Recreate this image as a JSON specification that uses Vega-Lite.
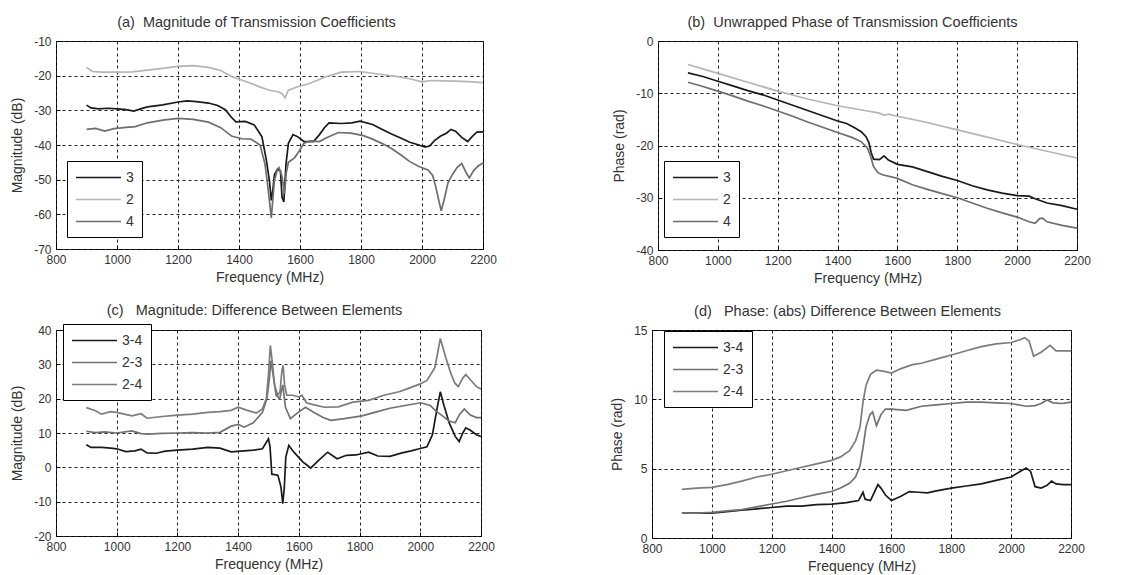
{
  "$schema": "https://vega.github.io/schema/vega-lite/v6.json",
  "background": "white",
  "padding": {"left": 10, "top": 14, "right": 5, "bottom": 5},
  "resolve": {"scale": {"color": "independent"}, "legend": {"color": "independent"}},
  "config": {
    "font": "Liberation Sans",
    "view": {"stroke": "#000", "strokeWidth": 1},
    "title": {"font": "Liberation Sans", "fontSize": 14.5, "fontWeight": "normal", "color": "#333", "offset": 5, "anchor": "middle"},
    "axis": {
      "labelFont": "Liberation Sans", "labelFontSize": 12, "labelColor": "#333",
      "titleFont": "Liberation Sans", "titleFontSize": 14, "titleFontWeight": "normal", "titleColor": "#333",
      "domain": false, "ticks": true, "tickSize": -4, "tickColor": "#000", "labelPadding": 9,
      "grid": true, "gridColor": "#222", "gridDash": [3, 3], "gridWidth": 1, "gridOpacity": 1,
      "labelOverlap": false, "labelFlush": false, "labelBound": false,
      "labelExpr": "'' + datum.value"
    },
    "axisX": {"titlePadding": 5},
    "axisY": {"titlePadding": 9},
    "legend": {
      "title": null, "orient": "none", "strokeColor": "#000", "fillColor": "white", "padding": 8,
      "symbolType": "M-3,0H3", "symbolSize": 225, "symbolOffset": 15, "symbolStrokeWidth": 1.8,
      "labelFont": "Liberation Sans", "labelFontSize": 14,
      "labelColor": "#333", "labelOffset": 19, "rowPadding": 6
    },
    "line": {"strokeWidth": 1.7}
  },
  "datasets": {
    "a": [
      {"f":900,"v":-28.5,"s":"3"},{"f":915,"v":-29.3,"s":"3"},{"f":940,"v":-29.6,"s":"3"},{"f":970,"v":-29.4,"s":"3"},{"f":1000,"v":-29.6,"s":"3"},{"f":1030,"v":-29.8,"s":"3"},{"f":1055,"v":-30.2,"s":"3"},{"f":1080,"v":-29.5,"s":"3"},{"f":1100,"v":-29,"s":"3"},{"f":1150,"v":-28.4,"s":"3"},{"f":1200,"v":-27.6,"s":"3"},{"f":1230,"v":-27.3,"s":"3"},{"f":1260,"v":-27.5,"s":"3"},{"f":1300,"v":-27.9,"s":"3"},{"f":1330,"v":-28.6,"s":"3"},{"f":1355,"v":-29.8,"s":"3"},{"f":1375,"v":-32,"s":"3"},{"f":1390,"v":-33.3,"s":"3"},{"f":1420,"v":-33.2,"s":"3"},{"f":1450,"v":-34.2,"s":"3"},{"f":1475,"v":-37.6,"s":"3"},{"f":1490,"v":-44.5,"s":"3"},{"f":1500,"v":-50.5,"s":"3"},{"f":1506,"v":-56,"s":"3"},{"f":1511,"v":-53,"s":"3"},{"f":1516,"v":-48.6,"s":"3"},{"f":1526,"v":-47,"s":"3"},{"f":1536,"v":-47.5,"s":"3"},{"f":1541,"v":-55,"s":"3"},{"f":1547,"v":-56.4,"s":"3"},{"f":1554,"v":-45.6,"s":"3"},{"f":1562,"v":-39.5,"s":"3"},{"f":1577,"v":-37,"s":"3"},{"f":1592,"v":-37.6,"s":"3"},{"f":1613,"v":-39,"s":"3"},{"f":1644,"v":-39,"s":"3"},{"f":1664,"v":-37,"s":"3"},{"f":1680,"v":-35,"s":"3"},{"f":1695,"v":-33.6,"s":"3"},{"f":1736,"v":-33.8,"s":"3"},{"f":1770,"v":-33.6,"s":"3"},{"f":1797,"v":-33.1,"s":"3"},{"f":1838,"v":-34.1,"s":"3"},{"f":1870,"v":-35.5,"s":"3"},{"f":1900,"v":-36.8,"s":"3"},{"f":1930,"v":-38,"s":"3"},{"f":1960,"v":-39.2,"s":"3"},{"f":1990,"v":-40,"s":"3"},{"f":2010,"v":-40.6,"s":"3"},{"f":2025,"v":-40.3,"s":"3"},{"f":2040,"v":-38.8,"s":"3"},{"f":2060,"v":-37.5,"s":"3"},{"f":2080,"v":-36.6,"s":"3"},{"f":2095,"v":-35.5,"s":"3"},{"f":2110,"v":-36,"s":"3"},{"f":2130,"v":-37.8,"s":"3"},{"f":2150,"v":-39,"s":"3"},{"f":2165,"v":-37.5,"s":"3"},{"f":2180,"v":-36.3,"s":"3"},{"f":2200,"v":-36.2,"s":"3"},
      {"f":900,"v":-17.6,"s":"2"},{"f":920,"v":-18.8,"s":"2"},{"f":950,"v":-19,"s":"2"},{"f":1000,"v":-19,"s":"2"},{"f":1050,"v":-18.9,"s":"2"},{"f":1100,"v":-18.4,"s":"2"},{"f":1150,"v":-17.9,"s":"2"},{"f":1200,"v":-17.3,"s":"2"},{"f":1250,"v":-17.1,"s":"2"},{"f":1300,"v":-17.6,"s":"2"},{"f":1340,"v":-18.5,"s":"2"},{"f":1377,"v":-20.3,"s":"2"},{"f":1439,"v":-22.2,"s":"2"},{"f":1470,"v":-23.3,"s":"2"},{"f":1500,"v":-24.2,"s":"2"},{"f":1531,"v":-24.7,"s":"2"},{"f":1541,"v":-25.2,"s":"2"},{"f":1551,"v":-26.4,"s":"2"},{"f":1562,"v":-24.2,"s":"2"},{"f":1592,"v":-23.2,"s":"2"},{"f":1633,"v":-22.2,"s":"2"},{"f":1685,"v":-20.3,"s":"2"},{"f":1736,"v":-19,"s":"2"},{"f":1797,"v":-18.8,"s":"2"},{"f":1838,"v":-19.3,"s":"2"},{"f":1880,"v":-19.8,"s":"2"},{"f":1920,"v":-20.3,"s":"2"},{"f":1960,"v":-20.9,"s":"2"},{"f":2000,"v":-21.8,"s":"2"},{"f":2030,"v":-21.4,"s":"2"},{"f":2070,"v":-21.5,"s":"2"},{"f":2110,"v":-21.6,"s":"2"},{"f":2150,"v":-21.7,"s":"2"},{"f":2200,"v":-22,"s":"2"},
      {"f":900,"v":-35.5,"s":"4"},{"f":930,"v":-35.2,"s":"4"},{"f":960,"v":-36,"s":"4"},{"f":990,"v":-35.3,"s":"4"},{"f":1030,"v":-34.9,"s":"4"},{"f":1060,"v":-34.7,"s":"4"},{"f":1100,"v":-33.6,"s":"4"},{"f":1150,"v":-32.8,"s":"4"},{"f":1200,"v":-32.3,"s":"4"},{"f":1250,"v":-32.6,"s":"4"},{"f":1300,"v":-33.4,"s":"4"},{"f":1340,"v":-35,"s":"4"},{"f":1377,"v":-37.5,"s":"4"},{"f":1410,"v":-38.2,"s":"4"},{"f":1439,"v":-38.3,"s":"4"},{"f":1469,"v":-40,"s":"4"},{"f":1485,"v":-45.4,"s":"4"},{"f":1495,"v":-52.3,"s":"4"},{"f":1506,"v":-61,"s":"4"},{"f":1516,"v":-50.3,"s":"4"},{"f":1526,"v":-47,"s":"4"},{"f":1531,"v":-46.5,"s":"4"},{"f":1541,"v":-49,"s":"4"},{"f":1549,"v":-54,"s":"4"},{"f":1555,"v":-48,"s":"4"},{"f":1562,"v":-45,"s":"4"},{"f":1582,"v":-43.7,"s":"4"},{"f":1597,"v":-41.8,"s":"4"},{"f":1613,"v":-39.5,"s":"4"},{"f":1633,"v":-38.8,"s":"4"},{"f":1664,"v":-39,"s":"4"},{"f":1685,"v":-38,"s":"4"},{"f":1726,"v":-36.4,"s":"4"},{"f":1767,"v":-36.6,"s":"4"},{"f":1808,"v":-37.3,"s":"4"},{"f":1838,"v":-38.3,"s":"4"},{"f":1870,"v":-39.6,"s":"4"},{"f":1900,"v":-41,"s":"4"},{"f":1930,"v":-42.8,"s":"4"},{"f":1960,"v":-44.8,"s":"4"},{"f":1990,"v":-46.2,"s":"4"},{"f":2020,"v":-47.2,"s":"4"},{"f":2035,"v":-48.8,"s":"4"},{"f":2045,"v":-52,"s":"4"},{"f":2055,"v":-56,"s":"4"},{"f":2063,"v":-59,"s":"4"},{"f":2072,"v":-56,"s":"4"},{"f":2085,"v":-51,"s":"4"},{"f":2100,"v":-48.5,"s":"4"},{"f":2115,"v":-46.5,"s":"4"},{"f":2130,"v":-45.3,"s":"4"},{"f":2145,"v":-48,"s":"4"},{"f":2155,"v":-49.5,"s":"4"},{"f":2170,"v":-47.3,"s":"4"},{"f":2185,"v":-46,"s":"4"},{"f":2200,"v":-45.2,"s":"4"}
    ],
    "b": [
      {"f":900,"v":-6.1,"s":"3"},{"f":950,"v":-6.8,"s":"3"},{"f":1000,"v":-7.7,"s":"3"},{"f":1050,"v":-8.6,"s":"3"},{"f":1100,"v":-9.5,"s":"3"},{"f":1150,"v":-10.3,"s":"3"},{"f":1200,"v":-11.3,"s":"3"},{"f":1250,"v":-12.3,"s":"3"},{"f":1300,"v":-13.3,"s":"3"},{"f":1350,"v":-14.3,"s":"3"},{"f":1400,"v":-15.3,"s":"3"},{"f":1430,"v":-15.8,"s":"3"},{"f":1460,"v":-16.7,"s":"3"},{"f":1480,"v":-17.4,"s":"3"},{"f":1495,"v":-18.3,"s":"3"},{"f":1505,"v":-19.5,"s":"3"},{"f":1512,"v":-21.3,"s":"3"},{"f":1520,"v":-22.6,"s":"3"},{"f":1540,"v":-22.7,"s":"3"},{"f":1555,"v":-22,"s":"3"},{"f":1570,"v":-22.8,"s":"3"},{"f":1600,"v":-23.6,"s":"3"},{"f":1650,"v":-24.1,"s":"3"},{"f":1700,"v":-25,"s":"3"},{"f":1750,"v":-25.9,"s":"3"},{"f":1800,"v":-26.7,"s":"3"},{"f":1850,"v":-27.7,"s":"3"},{"f":1900,"v":-28.5,"s":"3"},{"f":1950,"v":-29.1,"s":"3"},{"f":2000,"v":-29.6,"s":"3"},{"f":2040,"v":-29.7,"s":"3"},{"f":2060,"v":-30.2,"s":"3"},{"f":2100,"v":-31,"s":"3"},{"f":2150,"v":-31.5,"s":"3"},{"f":2200,"v":-32.2,"s":"3"},
      {"f":900,"v":-4.5,"s":"2"},{"f":1000,"v":-6.2,"s":"2"},{"f":1100,"v":-7.9,"s":"2"},{"f":1200,"v":-9.6,"s":"2"},{"f":1300,"v":-11.1,"s":"2"},{"f":1400,"v":-12.4,"s":"2"},{"f":1500,"v":-13.4,"s":"2"},{"f":1540,"v":-13.8,"s":"2"},{"f":1555,"v":-14.2,"s":"2"},{"f":1570,"v":-14,"s":"2"},{"f":1600,"v":-14.4,"s":"2"},{"f":1700,"v":-15.6,"s":"2"},{"f":1800,"v":-17,"s":"2"},{"f":1900,"v":-18.4,"s":"2"},{"f":2000,"v":-19.8,"s":"2"},{"f":2100,"v":-21.1,"s":"2"},{"f":2200,"v":-22.4,"s":"2"},
      {"f":900,"v":-7.9,"s":"4"},{"f":950,"v":-8.7,"s":"4"},{"f":1000,"v":-9.6,"s":"4"},{"f":1050,"v":-10.5,"s":"4"},{"f":1100,"v":-11.5,"s":"4"},{"f":1150,"v":-12.4,"s":"4"},{"f":1200,"v":-13.4,"s":"4"},{"f":1250,"v":-14.4,"s":"4"},{"f":1300,"v":-15.5,"s":"4"},{"f":1350,"v":-16.5,"s":"4"},{"f":1400,"v":-17.5,"s":"4"},{"f":1450,"v":-18.5,"s":"4"},{"f":1480,"v":-19.3,"s":"4"},{"f":1500,"v":-20.5,"s":"4"},{"f":1510,"v":-22,"s":"4"},{"f":1520,"v":-24,"s":"4"},{"f":1535,"v":-25.2,"s":"4"},{"f":1550,"v":-25.6,"s":"4"},{"f":1600,"v":-26.3,"s":"4"},{"f":1650,"v":-27.5,"s":"4"},{"f":1700,"v":-28.4,"s":"4"},{"f":1750,"v":-29.2,"s":"4"},{"f":1800,"v":-30,"s":"4"},{"f":1850,"v":-31,"s":"4"},{"f":1900,"v":-32,"s":"4"},{"f":1950,"v":-32.9,"s":"4"},{"f":2000,"v":-33.7,"s":"4"},{"f":2040,"v":-34.6,"s":"4"},{"f":2060,"v":-34.9,"s":"4"},{"f":2075,"v":-34,"s":"4"},{"f":2085,"v":-33.9,"s":"4"},{"f":2100,"v":-34.6,"s":"4"},{"f":2150,"v":-35.3,"s":"4"},{"f":2200,"v":-35.8,"s":"4"}
    ],
    "c": [
      {"f":900,"v":6.6,"s":"3-4"},{"f":915,"v":5.8,"s":"3-4"},{"f":950,"v":5.8,"s":"3-4"},{"f":980,"v":5.6,"s":"3-4"},{"f":1000,"v":5.4,"s":"3-4"},{"f":1030,"v":4.6,"s":"3-4"},{"f":1060,"v":4.8,"s":"3-4"},{"f":1080,"v":5.3,"s":"3-4"},{"f":1100,"v":4.2,"s":"3-4"},{"f":1130,"v":4.1,"s":"3-4"},{"f":1160,"v":4.7,"s":"3-4"},{"f":1200,"v":5,"s":"3-4"},{"f":1250,"v":5.3,"s":"3-4"},{"f":1300,"v":5.8,"s":"3-4"},{"f":1340,"v":5.6,"s":"3-4"},{"f":1377,"v":4.5,"s":"3-4"},{"f":1420,"v":4.8,"s":"3-4"},{"f":1450,"v":5,"s":"3-4"},{"f":1480,"v":5.4,"s":"3-4"},{"f":1500,"v":8.3,"s":"3-4"},{"f":1505,"v":6,"s":"3-4"},{"f":1511,"v":-2,"s":"3-4"},{"f":1531,"v":-2.3,"s":"3-4"},{"f":1541,"v":-5.7,"s":"3-4"},{"f":1547,"v":-10.6,"s":"3-4"},{"f":1552,"v":-6,"s":"3-4"},{"f":1557,"v":3,"s":"3-4"},{"f":1567,"v":6.4,"s":"3-4"},{"f":1583,"v":4.5,"s":"3-4"},{"f":1613,"v":1.6,"s":"3-4"},{"f":1639,"v":-0.2,"s":"3-4"},{"f":1665,"v":2,"s":"3-4"},{"f":1695,"v":4.4,"s":"3-4"},{"f":1726,"v":2.5,"s":"3-4"},{"f":1757,"v":3.5,"s":"3-4"},{"f":1788,"v":3.6,"s":"3-4"},{"f":1830,"v":4.4,"s":"3-4"},{"f":1860,"v":3.3,"s":"3-4"},{"f":1900,"v":3.2,"s":"3-4"},{"f":1940,"v":4.2,"s":"3-4"},{"f":1970,"v":4.8,"s":"3-4"},{"f":2000,"v":5.5,"s":"3-4"},{"f":2022,"v":6,"s":"3-4"},{"f":2040,"v":9.5,"s":"3-4"},{"f":2055,"v":17,"s":"3-4"},{"f":2066,"v":22,"s":"3-4"},{"f":2078,"v":18,"s":"3-4"},{"f":2095,"v":13,"s":"3-4"},{"f":2115,"v":9,"s":"3-4"},{"f":2128,"v":7.5,"s":"3-4"},{"f":2140,"v":10,"s":"3-4"},{"f":2150,"v":11.5,"s":"3-4"},{"f":2165,"v":10.8,"s":"3-4"},{"f":2185,"v":9.5,"s":"3-4"},{"f":2200,"v":9,"s":"3-4"},
      {"f":900,"v":10.5,"s":"2-3"},{"f":930,"v":10.1,"s":"2-3"},{"f":960,"v":10.3,"s":"2-3"},{"f":1000,"v":10,"s":"2-3"},{"f":1050,"v":10.6,"s":"2-3"},{"f":1080,"v":9.8,"s":"2-3"},{"f":1100,"v":9.7,"s":"2-3"},{"f":1150,"v":9.9,"s":"2-3"},{"f":1200,"v":10,"s":"2-3"},{"f":1250,"v":10.1,"s":"2-3"},{"f":1300,"v":10,"s":"2-3"},{"f":1340,"v":10.2,"s":"2-3"},{"f":1377,"v":12,"s":"2-3"},{"f":1400,"v":12.5,"s":"2-3"},{"f":1420,"v":11.7,"s":"2-3"},{"f":1450,"v":13,"s":"2-3"},{"f":1480,"v":16,"s":"2-3"},{"f":1495,"v":20,"s":"2-3"},{"f":1503,"v":26,"s":"2-3"},{"f":1508,"v":31,"s":"2-3"},{"f":1515,"v":27,"s":"2-3"},{"f":1525,"v":21,"s":"2-3"},{"f":1537,"v":20,"s":"2-3"},{"f":1547,"v":24,"s":"2-3"},{"f":1556,"v":17.5,"s":"2-3"},{"f":1572,"v":14.2,"s":"2-3"},{"f":1598,"v":16,"s":"2-3"},{"f":1622,"v":17.5,"s":"2-3"},{"f":1650,"v":16,"s":"2-3"},{"f":1680,"v":14.5,"s":"2-3"},{"f":1705,"v":13.7,"s":"2-3"},{"f":1750,"v":14.2,"s":"2-3"},{"f":1808,"v":15,"s":"2-3"},{"f":1850,"v":16,"s":"2-3"},{"f":1900,"v":17.2,"s":"2-3"},{"f":1950,"v":18,"s":"2-3"},{"f":2002,"v":18.8,"s":"2-3"},{"f":2033,"v":18,"s":"2-3"},{"f":2050,"v":16.5,"s":"2-3"},{"f":2073,"v":15,"s":"2-3"},{"f":2095,"v":13.5,"s":"2-3"},{"f":2115,"v":13,"s":"2-3"},{"f":2130,"v":15.5,"s":"2-3"},{"f":2145,"v":17,"s":"2-3"},{"f":2165,"v":15.2,"s":"2-3"},{"f":2185,"v":14.5,"s":"2-3"},{"f":2200,"v":14.5,"s":"2-3"},
      {"f":900,"v":17.4,"s":"2-4"},{"f":930,"v":16.5,"s":"2-4"},{"f":950,"v":15.5,"s":"2-4"},{"f":980,"v":16.2,"s":"2-4"},{"f":1000,"v":16,"s":"2-4"},{"f":1050,"v":15,"s":"2-4"},{"f":1080,"v":15.6,"s":"2-4"},{"f":1100,"v":14.3,"s":"2-4"},{"f":1150,"v":14.8,"s":"2-4"},{"f":1200,"v":15.2,"s":"2-4"},{"f":1250,"v":15.5,"s":"2-4"},{"f":1300,"v":16,"s":"2-4"},{"f":1340,"v":16.2,"s":"2-4"},{"f":1377,"v":16.6,"s":"2-4"},{"f":1400,"v":17.5,"s":"2-4"},{"f":1430,"v":16.6,"s":"2-4"},{"f":1460,"v":15.8,"s":"2-4"},{"f":1480,"v":17,"s":"2-4"},{"f":1493,"v":20,"s":"2-4"},{"f":1500,"v":27,"s":"2-4"},{"f":1506,"v":35.5,"s":"2-4"},{"f":1512,"v":31,"s":"2-4"},{"f":1520,"v":24,"s":"2-4"},{"f":1530,"v":21,"s":"2-4"},{"f":1538,"v":22,"s":"2-4"},{"f":1544,"v":28,"s":"2-4"},{"f":1548,"v":29.7,"s":"2-4"},{"f":1553,"v":24,"s":"2-4"},{"f":1560,"v":21,"s":"2-4"},{"f":1580,"v":21,"s":"2-4"},{"f":1600,"v":20.5,"s":"2-4"},{"f":1610,"v":21,"s":"2-4"},{"f":1625,"v":18.8,"s":"2-4"},{"f":1650,"v":18.2,"s":"2-4"},{"f":1685,"v":17.5,"s":"2-4"},{"f":1730,"v":17.6,"s":"2-4"},{"f":1778,"v":19,"s":"2-4"},{"f":1830,"v":19.5,"s":"2-4"},{"f":1880,"v":21,"s":"2-4"},{"f":1930,"v":22,"s":"2-4"},{"f":1961,"v":23,"s":"2-4"},{"f":2000,"v":24.3,"s":"2-4"},{"f":2022,"v":25.3,"s":"2-4"},{"f":2048,"v":29,"s":"2-4"},{"f":2066,"v":37.5,"s":"2-4"},{"f":2084,"v":32,"s":"2-4"},{"f":2100,"v":27.5,"s":"2-4"},{"f":2114,"v":24.5,"s":"2-4"},{"f":2125,"v":23.5,"s":"2-4"},{"f":2140,"v":26,"s":"2-4"},{"f":2150,"v":27,"s":"2-4"},{"f":2165,"v":25.5,"s":"2-4"},{"f":2185,"v":23.5,"s":"2-4"},{"f":2200,"v":22.8,"s":"2-4"}
    ],
    "d": [
      {"f":900,"v":1.8,"s":"3-4"},{"f":950,"v":1.8,"s":"3-4"},{"f":1000,"v":1.8,"s":"3-4"},{"f":1050,"v":1.9,"s":"3-4"},{"f":1100,"v":2.0,"s":"3-4"},{"f":1150,"v":2.1,"s":"3-4"},{"f":1200,"v":2.2,"s":"3-4"},{"f":1250,"v":2.3,"s":"3-4"},{"f":1300,"v":2.3,"s":"3-4"},{"f":1350,"v":2.4,"s":"3-4"},{"f":1400,"v":2.45,"s":"3-4"},{"f":1450,"v":2.55,"s":"3-4"},{"f":1490,"v":2.7,"s":"3-4"},{"f":1505,"v":3.3,"s":"3-4"},{"f":1512,"v":2.8,"s":"3-4"},{"f":1530,"v":2.7,"s":"3-4"},{"f":1545,"v":3.4,"s":"3-4"},{"f":1555,"v":3.85,"s":"3-4"},{"f":1565,"v":3.6,"s":"3-4"},{"f":1580,"v":3.1,"s":"3-4"},{"f":1600,"v":2.7,"s":"3-4"},{"f":1630,"v":3.0,"s":"3-4"},{"f":1660,"v":3.35,"s":"3-4"},{"f":1690,"v":3.3,"s":"3-4"},{"f":1720,"v":3.25,"s":"3-4"},{"f":1750,"v":3.4,"s":"3-4"},{"f":1800,"v":3.6,"s":"3-4"},{"f":1850,"v":3.75,"s":"3-4"},{"f":1900,"v":3.9,"s":"3-4"},{"f":1950,"v":4.15,"s":"3-4"},{"f":2000,"v":4.4,"s":"3-4"},{"f":2030,"v":4.8,"s":"3-4"},{"f":2050,"v":5.05,"s":"3-4"},{"f":2065,"v":4.8,"s":"3-4"},{"f":2080,"v":3.7,"s":"3-4"},{"f":2100,"v":3.6,"s":"3-4"},{"f":2120,"v":3.8,"s":"3-4"},{"f":2135,"v":4.1,"s":"3-4"},{"f":2150,"v":3.9,"s":"3-4"},{"f":2175,"v":3.85,"s":"3-4"},{"f":2200,"v":3.85,"s":"3-4"},
      {"f":900,"v":1.8,"s":"2-3"},{"f":950,"v":1.8,"s":"2-3"},{"f":1000,"v":1.85,"s":"2-3"},{"f":1050,"v":1.95,"s":"2-3"},{"f":1100,"v":2.05,"s":"2-3"},{"f":1150,"v":2.25,"s":"2-3"},{"f":1200,"v":2.45,"s":"2-3"},{"f":1250,"v":2.65,"s":"2-3"},{"f":1300,"v":2.9,"s":"2-3"},{"f":1350,"v":3.15,"s":"2-3"},{"f":1400,"v":3.35,"s":"2-3"},{"f":1430,"v":3.6,"s":"2-3"},{"f":1460,"v":3.95,"s":"2-3"},{"f":1480,"v":4.4,"s":"2-3"},{"f":1495,"v":5.2,"s":"2-3"},{"f":1505,"v":6.5,"s":"2-3"},{"f":1515,"v":8.0,"s":"2-3"},{"f":1528,"v":8.9,"s":"2-3"},{"f":1537,"v":9.1,"s":"2-3"},{"f":1550,"v":8.1,"s":"2-3"},{"f":1565,"v":8.9,"s":"2-3"},{"f":1580,"v":9.3,"s":"2-3"},{"f":1600,"v":9.3,"s":"2-3"},{"f":1650,"v":9.2,"s":"2-3"},{"f":1700,"v":9.5,"s":"2-3"},{"f":1750,"v":9.6,"s":"2-3"},{"f":1800,"v":9.7,"s":"2-3"},{"f":1850,"v":9.8,"s":"2-3"},{"f":1900,"v":9.8,"s":"2-3"},{"f":1950,"v":9.75,"s":"2-3"},{"f":2000,"v":9.7,"s":"2-3"},{"f":2050,"v":9.5,"s":"2-3"},{"f":2080,"v":9.55,"s":"2-3"},{"f":2100,"v":9.7,"s":"2-3"},{"f":2120,"v":9.95,"s":"2-3"},{"f":2140,"v":9.75,"s":"2-3"},{"f":2170,"v":9.7,"s":"2-3"},{"f":2200,"v":9.8,"s":"2-3"},
      {"f":900,"v":3.5,"s":"2-4"},{"f":950,"v":3.6,"s":"2-4"},{"f":1000,"v":3.65,"s":"2-4"},{"f":1050,"v":3.85,"s":"2-4"},{"f":1100,"v":4.1,"s":"2-4"},{"f":1150,"v":4.4,"s":"2-4"},{"f":1200,"v":4.6,"s":"2-4"},{"f":1250,"v":4.85,"s":"2-4"},{"f":1300,"v":5.1,"s":"2-4"},{"f":1350,"v":5.35,"s":"2-4"},{"f":1400,"v":5.6,"s":"2-4"},{"f":1430,"v":5.85,"s":"2-4"},{"f":1460,"v":6.3,"s":"2-4"},{"f":1480,"v":7.0,"s":"2-4"},{"f":1495,"v":8.0,"s":"2-4"},{"f":1505,"v":9.8,"s":"2-4"},{"f":1515,"v":11.0,"s":"2-4"},{"f":1530,"v":11.8,"s":"2-4"},{"f":1550,"v":12.1,"s":"2-4"},{"f":1580,"v":12.0,"s":"2-4"},{"f":1600,"v":11.9,"s":"2-4"},{"f":1630,"v":12.2,"s":"2-4"},{"f":1670,"v":12.5,"s":"2-4"},{"f":1700,"v":12.6,"s":"2-4"},{"f":1750,"v":12.9,"s":"2-4"},{"f":1800,"v":13.2,"s":"2-4"},{"f":1850,"v":13.5,"s":"2-4"},{"f":1900,"v":13.8,"s":"2-4"},{"f":1950,"v":14.0,"s":"2-4"},{"f":2000,"v":14.1,"s":"2-4"},{"f":2030,"v":14.3,"s":"2-4"},{"f":2045,"v":14.45,"s":"2-4"},{"f":2060,"v":14.2,"s":"2-4"},{"f":2075,"v":13.1,"s":"2-4"},{"f":2100,"v":13.4,"s":"2-4"},{"f":2130,"v":13.9,"s":"2-4"},{"f":2150,"v":13.5,"s":"2-4"},{"f":2175,"v":13.5,"s":"2-4"},{"f":2200,"v":13.5,"s":"2-4"}
    ]
  },
  "spacing": 16,
  "vconcat": [
    {
      "spacing": 115,
      "resolve": {"scale": {"color": "independent"}, "legend": {"color": "independent"}},
      "hconcat": [
        {
          "width": 427, "height": 208,
          "title": {"text": "(a)\u00a0\u00a0Magnitude of Transmission Coefficients", "dx": -13},
          "data": {"name": "a"},
          "mark": {"type": "line"},
          "encoding": {
            "x": {"field": "f", "type": "quantitative", "title": "Frequency (MHz)", "scale": {"domain": [800, 2200], "nice": false}, "axis": {"values": [800, 1000, 1200, 1400, 1600, 1800, 2000, 2200]}},
            "y": {"field": "v", "type": "quantitative", "title": "Magnitude (dB)", "scale": {"domain": [-70, -10], "nice": false, "zero": false}, "axis": {"values": [-70, -60, -50, -40, -30, -20, -10]}},
            "color": {"field": "s", "type": "nominal", "scale": {"domain": ["3", "2", "4"], "range": ["#1a1a1a", "#b5b5b5", "#6e6e6e"]}, "legend": {"legendX": 11, "legendY": 120}}
          }
        },
        {
          "width": 419, "height": 209,
          "title": {"text": "(b)\u00a0\u00a0Unwrapped Phase of Transmission Coefficients", "dx": -15},
          "data": {"name": "b"},
          "mark": {"type": "line"},
          "encoding": {
            "x": {"field": "f", "type": "quantitative", "title": "Frequency (MHz)", "scale": {"domain": [800, 2200], "nice": false}, "axis": {"values": [800, 1000, 1200, 1400, 1600, 1800, 2000, 2200]}},
            "y": {"field": "v", "type": "quantitative", "title": "Phase (rad)", "scale": {"domain": [-40, 0], "nice": false, "zero": false}, "axis": {"values": [-40, -30, -20, -10, 0]}},
            "color": {"field": "s", "type": "nominal", "scale": {"domain": ["3", "2", "4"], "range": ["#1a1a1a", "#b5b5b5", "#6e6e6e"]}, "legend": {"legendX": 6, "legendY": 120}}
          }
        }
      ]
    },
    {
      "spacing": 115,
      "resolve": {"scale": {"color": "independent"}, "legend": {"color": "independent"}},
      "hconcat": [
        {
          "width": 425, "height": 206,
          "title": {"text": "(c)\u00a0\u00a0\u00a0Magnitude: Difference Between Elements", "dx": -14},
          "data": {"name": "c"},
          "mark": {"type": "line"},
          "encoding": {
            "x": {"field": "f", "type": "quantitative", "title": "Frequency (MHz)", "scale": {"domain": [800, 2200], "nice": false}, "axis": {"values": [800, 1000, 1200, 1400, 1600, 1800, 2000, 2200]}},
            "y": {"field": "v", "type": "quantitative", "title": "Magnitude (dB)", "scale": {"domain": [-20, 40], "nice": false, "zero": false}, "axis": {"values": [-20, -10, 0, 10, 20, 30, 40]}},
            "color": {"field": "s", "type": "nominal", "scale": {"domain": ["3-4", "2-3", "2-4"], "range": ["#1a1a1a", "#727272", "#7c7c7c"]}, "legend": {"legendX": 7, "legendY": -6}}
          }
        },
        {
          "width": 419, "height": 208,
          "title": {"text": "(d)\u00a0\u00a0\u00a0Phase: (abs) Difference Between Elements", "dx": -14},
          "data": {"name": "d"},
          "mark": {"type": "line"},
          "encoding": {
            "x": {"field": "f", "type": "quantitative", "title": "Frequency (MHz)", "scale": {"domain": [800, 2200], "nice": false}, "axis": {"values": [800, 1000, 1200, 1400, 1600, 1800, 2000, 2200]}},
            "y": {"field": "v", "type": "quantitative", "title": "Phase (rad)", "scale": {"domain": [0, 15], "nice": false, "zero": false}, "axis": {"values": [0, 5, 10, 15]}},
            "color": {"field": "s", "type": "nominal", "scale": {"domain": ["3-4", "2-3", "2-4"], "range": ["#1a1a1a", "#727272", "#7c7c7c"]}, "legend": {"legendX": 12, "legendY": 1}}
          }
        }
      ]
    }
  ]
}
